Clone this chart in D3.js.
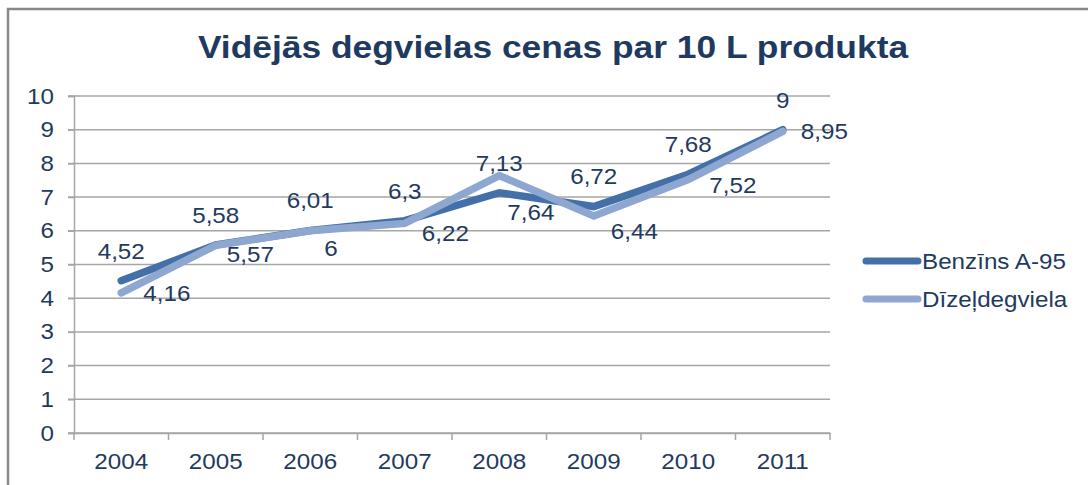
<!DOCTYPE html>
<html>
<head>
<meta charset="utf-8">
<script src="https://cdn.jsdelivr.net/npm/d3@7"></script>
<style>
  html, body { margin: 0; padding: 0; background: #fff; }
  svg { display: block; font-family: "Liberation Sans", Arial, sans-serif; }
</style>
</head>
<body>
<svg id="chart" width="1088" height="485"></svg>
<script>
// dati
const years = ["2004", "2005", "2006", "2007", "2008", "2009", "2010", "2011"];
const benzins = [4.52, 5.58, 6.01, 6.3, 7.13, 6.72, 7.68, 9];
const dizelis = [4.16, 5.57, 6, 6.22, 7.64, 6.44, 7.52, 8.95];
const yTicks = [0, 1, 2, 3, 4, 5, 6, 7, 8, 9, 10];
const seriesNames = ["Benzīns A-95", "Dīzeļdegviela"];

// label nudges for the diesel labels (Excel put them right / below-right)
const dzLabelDx = [22, 11, 14, 17, 8, 17, 21, 18];
const dzLabelDy = [0, 9, 17, 10, 37, 15, 6, 0];

const textColor = "#1F3A60";
const colors = ["#4470AA", "#8EA7D1"];

const svg = d3.select("#chart");

// frame
svg.append("path")
  .attr("d", "M8,485 L8,9 L1088,9")
  .attr("fill", "none")
  .attr("stroke", "#888")
  .attr("stroke-width", 2.5);

// title
svg.append("text")
  .attr("class", "t")
  .attr("data-k", 1.105)
  .attr("x", 553).attr("y", 58)
  .attr("text-anchor", "middle")
  .attr("font-size", 32)
  .attr("font-weight", "bold")
  .attr("fill", textColor)
  .text("Vidējās degvielas cenas par 10 L produkta");

const x0 = 74, x1 = 830, yTop = 96, yBot = 433;

const x = d3.scaleBand().domain(years).range([x0, x1]);
const y = d3.scaleLinear().domain([0, 10]).range([yBot, yTop]);
const cx = d => x(d) + x.bandwidth() / 2;

const fs = 22;

// gridlines
svg.append("g")
  .selectAll("line")
  .data(yTicks)
  .join("line")
  .attr("x1", x0 - 6).attr("x2", x1)
  .attr("y1", d => y(d)).attr("y2", d => y(d))
  .attr("stroke", "#A6A6A6")
  .attr("stroke-width", 1.5);

// y axis
const yAxis = svg.append("g")
  .attr("transform", `translate(${x0},0)`)
  .call(d3.axisLeft(y).tickValues(yTicks).tickSize(6).tickPadding(14).tickFormat(d3.format("d")));
yAxis.select(".domain").attr("stroke", "#A6A6A6").attr("stroke-width", 1.5);
yAxis.selectAll(".tick line").attr("stroke", "#A6A6A6").attr("stroke-width", 1.5);
yAxis.selectAll(".tick text")
  .attr("class", "t")
  .attr("font-size", fs)
  .attr("font-family", "Liberation Sans, Arial, sans-serif")
  .attr("fill", textColor);

// x axis
const xAxis = svg.append("g")
  .attr("transform", `translate(0,${yBot})`)
  .call(d3.axisBottom(x).tickSize(0).tickPadding(20));
xAxis.select(".domain").attr("stroke", "#A6A6A6").attr("stroke-width", 1.5);
xAxis.selectAll(".tick text")
  .attr("class", "t")
  .attr("font-size", fs)
  .attr("font-family", "Liberation Sans, Arial, sans-serif")
  .attr("fill", textColor);
// category boundary ticks
const bounds = years.map(d => x(d)).concat([x1]);
xAxis.append("g")
  .selectAll("line")
  .data(bounds)
  .join("line")
  .attr("x1", d => d).attr("x2", d => d)
  .attr("y1", 0).attr("y2", 7)
  .attr("stroke", "#A6A6A6")
  .attr("stroke-width", 1.5);

// lines
const line = d3.line()
  .x((d, i) => cx(years[i]))
  .y(d => y(d));

[benzins, dizelis].forEach((vals, s) => {
  svg.append("path")
    .datum(vals)
    .attr("d", line)
    .attr("fill", "none")
    .attr("stroke", colors[s])
    .attr("stroke-width", 7.5)
    .attr("stroke-linecap", "round")
    .attr("stroke-linejoin", "miter");
});

const fmt = v => String(v).replace(".", ",");

// benzins labels above
svg.append("g")
  .selectAll("text")
  .data(benzins)
  .join("text")
  .attr("class", "t")
  .attr("x", (d, i) => cx(years[i]))
  .attr("y", d => y(d) - 30 + fs * 0.36)
  .attr("text-anchor", "middle")
  .attr("font-size", fs)
  .attr("fill", textColor)
  .text(fmt);

// diesel labels right / below
svg.append("g")
  .selectAll("text")
  .data(dizelis)
  .join("text")
  .attr("class", "t")
  .attr("x", (d, i) => cx(years[i]) + dzLabelDx[i])
  .attr("y", (d, i) => y(d) + dzLabelDy[i] + fs * 0.36)
  .attr("text-anchor", "start")
  .attr("font-size", fs)
  .attr("fill", textColor)
  .text(fmt);

// legend
const legend = svg.append("g");
seriesNames.forEach((name, s) => {
  const ly = 261 + s * 38;
  legend.append("line")
    .attr("x1", 866).attr("x2", 918)
    .attr("y1", ly).attr("y2", ly)
    .attr("stroke", colors[s])
    .attr("stroke-width", 7)
    .attr("stroke-linecap", "round");
  legend.append("text")
    .attr("class", "t")
    .attr("x", 922).attr("y", ly + fs * 0.36)
    .attr("font-size", fs)
    .attr("fill", textColor)
    .text(name);
});

// widen text a little to match the reference
svg.selectAll("text.t").each(function() {
  const el = d3.select(this);
  const k = +(el.attr("data-k") || 1.1);
  const len = this.getComputedTextLength();
  el.attr("textLength", len * k)
    .attr("lengthAdjust", "spacingAndGlyphs");
});
</script>
</body>
</html>
